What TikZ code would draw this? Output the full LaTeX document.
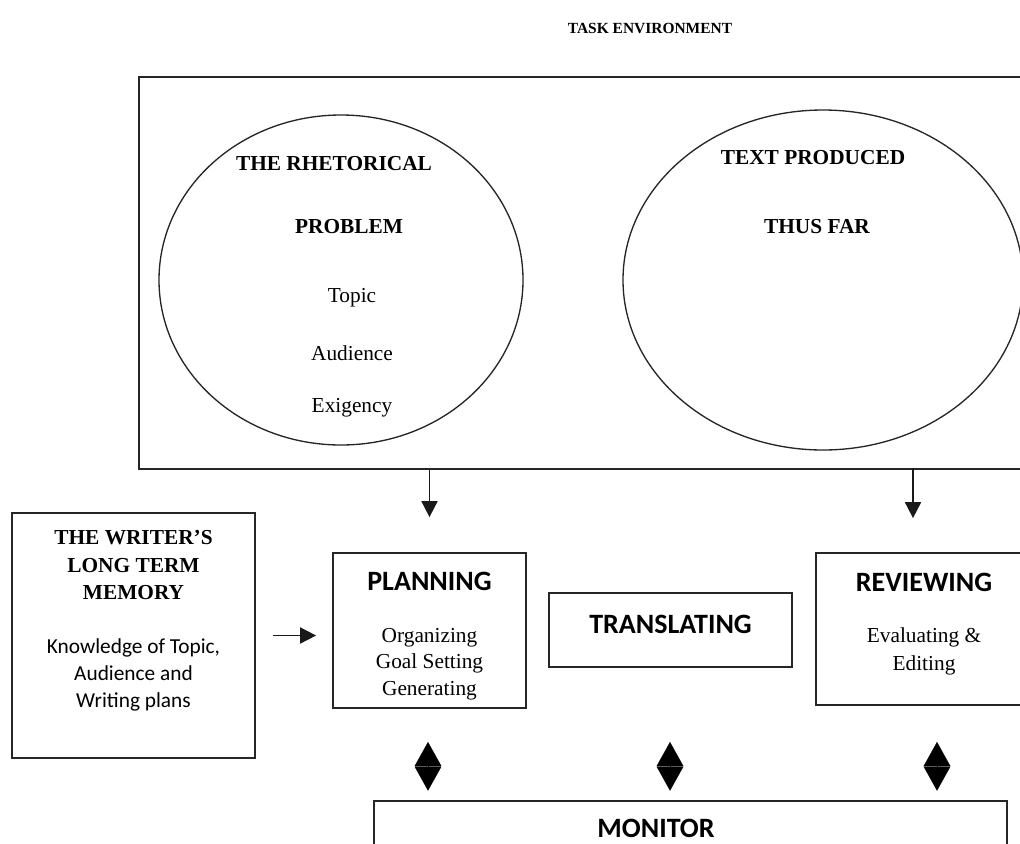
\documentclass[tikz,border=0pt]{standalone}
\usepackage{fontspec}
\setmainfont{Liberation Serif}
\newfontfamily\calfont{Carlito}
\usetikzlibrary{arrows.meta,shapes.geometric}
\tikzset{
  box/.style={draw=black!85, line width=1.3pt, rectangle, inner sep=0pt},
  ell/.style={draw=black!85, line width=1pt, ellipse, inner sep=0pt},
  hd/.style={font=\fontsize{16}{20.5}\selectfont\bfseries, align=center, inner sep=0pt},
  tx/.style={font=\fontsize{16}{20}\selectfont, align=center, inner sep=0pt},
  cb/.style={font=\calfont\fontsize{21}{25}\selectfont\bfseries, inner sep=0pt},
  cr/.style={font=\calfont\fontsize{16}{20.3}\selectfont, align=center, inner sep=0pt},
  arr/.style={-{Triangle[length=12pt,width=12pt]}, line width=1.3pt, draw=black!90},
  dia/.style={{Triangle[length=18pt,width=20pt]}-{Triangle[length=18pt,width=20pt]}, line width=0.1pt},
}
\begin{document}
\begin{tikzpicture}[x=0.75pt,y=-0.75pt]
\clip (0,0) rectangle (1020,843);
\fill[white] (0,0) rectangle (1020,843);

% title
\node[font=\fontsize{11.6}{14}\selectfont\bfseries, inner sep=0pt] (title) at (650,28) {TASK ENVIRONMENT};

% task environment
\node[box, anchor=north west, minimum width=676.5pt, minimum height=294pt] (task) at (138,76) {};

% ellipses
\node[ell, minimum width=273pt, minimum height=247.5pt] (rhet) at (341,280) {};
\node[hd] (rh1) at (334,164) {THE RHETORICAL};
\node[hd] (rh2) at (349,227) {PROBLEM};
\node[tx] (rh3) at (352,298) {Topic};
\node[tx] (rh4) at (352,353) {Audience};
\node[tx] (rh5) at (352,408) {Exigency};

\node[ell, minimum width=300pt, minimum height=255pt] (text) at (823,280) {};
\node[hd] (tp1) at (813,158) {TEXT PRODUCED};
\node[hd] (tp2) at (817,227) {THUS FAR};

% long term memory
\node[box, minimum width=182.25pt, minimum height=183.75pt] (ltm) at (133.5,635.5) {};
\node[hd] (ltmh) at (133.5,565) {THE WRITER'S\\LONG TERM\\MEMORY};
\node[cr] (ltmt) at (133.5,675) {Knowledge of Topic,\\Audience and\\Writing plans};

% planning
\node[box, minimum width=144.75pt, minimum height=116.25pt] (plan) at (429.5,630.5) {};
\node[cb] (planh) at (429.5,581) {PLANNING};
\node[tx] (plant) at (429.5,664) {Organizing\\Goal Setting\\Generating};

% translating
\node[box, minimum width=182.25pt, minimum height=55.5pt] (trans) at (670.5,630) {};
\node[cb] (transh) at (670.5,624) {TRANSLATING};

% reviewing
\node[box, minimum width=162pt, minimum height=114pt] (rev) at (924,629) {};
\node[cb] (revh) at (924,582) {REVIEWING};
\node[tx, font=\fontsize{16}{21}\selectfont] (revt) at (924,651) {Evaluating \&\\Editing};

% monitor
\node[box, anchor=north west, minimum width=475pt, minimum height=60pt] (mon) at (373,800) {};
\node[cb] (monh) at (656,828) {MONITOR};

% arrows
\draw[arr, shorten >=26.25pt] (task.south -| plan.north) -- (plan.north);
\coordinate (ra) at (913,468);
\draw[arr, shorten >=25.5pt] (ra) -- (ra |- rev.north);
\draw[arr, shorten <=12.75pt, shorten >=12pt] (ltm.east) -- (ltm.east -| plan.west);

% double arrows to monitor
\coordinate (pd) at (428,708);
\draw[dia, shorten <=25.5pt, shorten >=7pt] (pd) -- (pd |- mon.north);
\coordinate (td) at (670,667);
\draw[dia, shorten <=56.25pt, shorten >=7pt] (td) -- (td |- mon.north);
\coordinate (rd) at (937,705);
\draw[dia, shorten <=27.75pt, shorten >=7pt] (rd) -- (rd |- mon.north);
\end{tikzpicture}
\end{document}
